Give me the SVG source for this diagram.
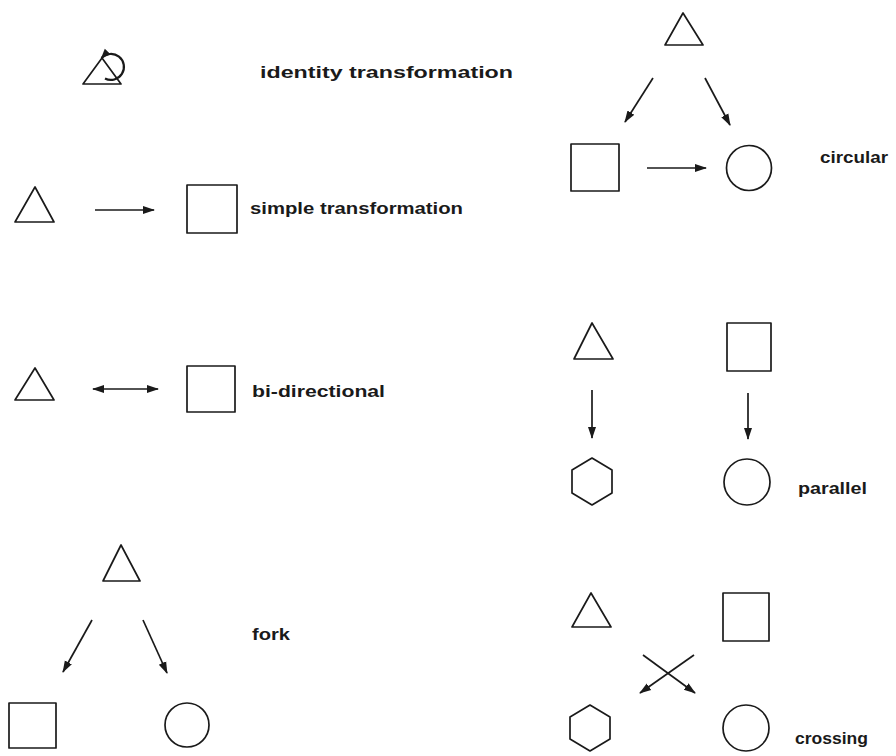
<svg xmlns="http://www.w3.org/2000/svg" width="896" height="756" viewBox="0 0 896 756">
<defs>
<marker id="ah" markerUnits="userSpaceOnUse" markerWidth="12" markerHeight="10" refX="11" refY="4" orient="auto-start-reverse" viewBox="0 0 12 8">
<path d="M0,0 L12,4 L0,8 Z" fill="#1a1a1a"/>
</marker>
<marker id="ahs" markerUnits="userSpaceOnUse" markerWidth="10" markerHeight="9" refX="9" refY="4" orient="auto" viewBox="0 0 10 8">
<path d="M0,0 L10,4 L0,8 Z" fill="#1a1a1a"/>
</marker>
<style>
.s{fill:none;stroke:#1a1a1a;stroke-width:1.7;stroke-linejoin:round}
.c{fill:none;stroke:#1a1a1a;stroke-width:1.7;marker-end:url(#ah)}
.t{font-family:"Liberation Sans",Arial,sans-serif;font-weight:bold;font-size:16px;fill:#1a1a1a}
</style>
</defs>
<rect width="896" height="756" fill="#fff"/>

<g id="identity">
<polygon class="s" points="102,58 83,84 121,84"/>
<path d="M105,78.5 A13,13 0 1 0 101.5,58" fill="none" stroke="#1a1a1a" stroke-width="2.2" marker-end="url(#ahs)"/>
<text class="t" x="260" y="78" textLength="253" lengthAdjust="spacingAndGlyphs">identity transformation</text>
</g>

<g id="simple">
<polygon class="s" points="35,187 15,222 54,222"/>
<rect class="s" x="187" y="185" width="50" height="48"/>
<text class="t" x="250" y="214" textLength="213" lengthAdjust="spacingAndGlyphs">simple transformation</text>
</g>

<g id="bidirectional">
<polygon class="s" points="35,368 15,400 54,400"/>
<rect class="s" x="187" y="366" width="48" height="46"/>
<text class="t" x="252" y="397" textLength="133" lengthAdjust="spacingAndGlyphs">bi-directional</text>
</g>

<g id="fork">
<polygon class="s" points="121,545 103,581 140,581"/>
<rect class="s" x="9" y="703" width="47" height="45"/>
<circle class="s" cx="187" cy="725" r="22"/>
<text class="t" x="252" y="640" textLength="38" lengthAdjust="spacingAndGlyphs">fork</text>
</g>

<g id="circular">
<polygon class="s" points="683,13 665,45 703,45"/>
<rect class="s" x="571" y="144" width="48" height="47"/>
<circle class="s" cx="749" cy="168" r="22.5"/>
<text class="t" x="820" y="163" textLength="68" lengthAdjust="spacingAndGlyphs">circular</text>
</g>

<g id="parallel">
<polygon class="s" points="592,323 574,359 613,359"/>
<rect class="s" x="727" y="323" width="44" height="48"/>
<polygon class="s" points="592,458 612,470 612,493 592,505 572,493 572,470"/>
<circle class="s" cx="747" cy="482" r="23"/>
<text class="t" x="798" y="494" textLength="69" lengthAdjust="spacingAndGlyphs">parallel</text>
</g>

<g id="crossing">
<polygon class="s" points="591,593 572,627 611,627"/>
<rect class="s" x="723" y="593" width="46" height="48"/>
<polygon class="s" points="590,705 610,717 610,739 590,751 570,739 570,717"/>
<circle class="s" cx="746" cy="728" r="23"/>
<text class="t" x="795" y="744" textLength="73" lengthAdjust="spacingAndGlyphs">crossing</text>
</g>

<g id="connectors">
<line class="c" x1="95" y1="210" x2="154" y2="210"/>
<line class="c" x1="93" y1="389" x2="158" y2="389" marker-start="url(#ah)"/>
<line class="c" x1="92" y1="620" x2="63" y2="672"/>
<line class="c" x1="143" y1="620" x2="167" y2="673"/>
<line class="c" x1="653" y1="78" x2="625" y2="122"/>
<line class="c" x1="705" y1="78" x2="730" y2="125"/>
<line class="c" x1="647" y1="168" x2="706" y2="168"/>
<line class="c" x1="592" y1="390" x2="592" y2="438"/>
<line class="c" x1="748" y1="393" x2="748" y2="439"/>
<line class="c" x1="643" y1="655" x2="695" y2="693"/>
<line class="c" x1="694" y1="655" x2="640" y2="693"/>
</g>
</svg>
